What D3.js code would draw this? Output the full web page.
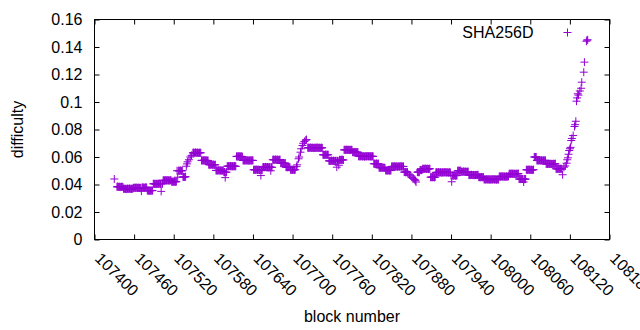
<!DOCTYPE html>
<html>
<head>
<meta charset="utf-8">
<script src="https://cdn.jsdelivr.net/npm/d3@7"></script>
<style>
  body { margin: 0; background: #fff; }
  text { font-family: "Liberation Sans", Arial, sans-serif; font-size: 16px; fill: #000; }
</style>
</head>
<body>
<svg id="chart" width="640" height="330"></svg>
<script>
var xTicks = [107400, 107460, 107520, 107580, 107640, 107700, 107760, 107820, 107880, 107940, 108000, 108060, 108120, 108180];
var yTicks = [0, 0.02, 0.04, 0.06, 0.08, 0.1, 0.12, 0.14, 0.16];
var seriesName = "SHA256D";

// block numbers and SHA256D difficulty
var blocks = [
  107430,
  107434,107435,107436,107437,107438,107439,107440,107441,107442,107443,
  107444,107445,107446,107447,107448,107449,107450,107451,107452,107453,107454,107455,107456,107457,107458,
  107459,107460,107461,107462,107463,107464,107465,107466,107467,107468,107469,107470,107471,
  107472,107473,107474,107475,107476,107477,107478,107479,
  107480,107481,107482,107483,107484,107485,107486,107487,107488,
  107489,107490,107491,107492,107493,107494,107495,107496,107497,107498,107499,107500,107501,107502,107503,
  107504,107505,107506,107507,107508,107509,107510,107511,107512,107513,107514,107515,107516,
  107517,107518,107519,107520,107521,107522,107523,107524,
  107525,107526,107527,107528,107529,107530,107531,107532,107533,
  107534,107535,107536,107537,107538,
  107539,107540,107541,107543,107545,107547,
  107549,107550,107551,107552,107553,107554,107555,107556,107557,107558,107559,107560,107561,
  107562,107563,107564,107565,107566,107567,107568,107569,107570,107571,107572,
  107573,107574,107575,107576,107577,107578,107579,107580,107581,107582,107583,
  107584,107585,107586,107587,107588,107589,107590,107591,107592,107593,107594,107595,
  107596,107597,107598,107599,107600,
  107601,107602,107603,107604,107605,107606,107607,107608,107609,107610,107611,107612,107613,107614,
  107615,107616,107617,107618,107619,107620,107621,107622,107623,107624,
  107625,107626,107627,107628,107629,107630,107631,107632,107633,107634,107635,107636,107637,107638,107639,107640,
  107641,107642,107643,107644,107645,107646,107647,107648,107649,107650,107651,107652,107653,107654,
  107655,107656,107657,107658,107659,107660,107661,107662,107663,107664,107665,107666,107667,107668,107669,
  107670,107671,107672,107673,107674,107675,107676,107677,107678,107679,107680,107681,
  107682,107683,107684,107685,107686,107687,107688,107689,
  107690,107691,107692,107693,107694,107695,107696,
  107697,107698,107699,107700,107701,107702,107703,107704,
  107706,107707,107709,107710,107712,107713,107715,107716,107718,107720,107721,
  107723,107724,107725,107726,107727,107728,107729,107730,107731,107732,107733,107734,107735,107736,107737,107738,107739,107740,107741,107742,107743,107744,107745,
  107746,107747,107748,107749,107750,107751,107752,107753,107754,
  107755,107756,107757,107758,107759,107760,107761,107762,107763,107764,107765,107766,107767,107768,107769,
  107770,107771,107772,107773,107774,107775,107776,107777,
  107778,107779,107780,107781,107782,107783,107784,107785,107786,107787,107788,107789,107790,
  107791,107792,107793,107794,107795,107796,107797,107798,107799,
  107800,107801,107802,107803,107804,107805,107806,107807,107808,107809,107810,107811,107812,107813,107814,107815,107816,107817,107818,107819,107820,107821,107822,
  107823,107824,107825,107826,107827,107828,107829,107830,
  107831,107832,107833,107834,107835,107836,107837,107838,107839,107840,
  107841,107842,107843,107844,107845,107846,107847,107848,107849,
  107850,107851,107852,107853,107854,107855,107856,107857,107858,107859,107860,107861,107862,107863,107864,107865,107866,107867,107868,
  107869,107870,107871,107872,107873,107874,
  107875,107877,107879,107881,107883,107885,107886,107887,
  107889,107890,107891,107892,107893,107894,107895,107896,
  107897,107898,107899,107900,107901,107902,107903,107904,107905,107906,107907,107908,
  107909,107910,107911,107912,107913,107914,107915,107916,
  107917,107918,107919,107920,107921,107922,107923,107924,107925,107926,107927,107928,107929,107930,107931,107932,107933,107934,107935,107936,107937,107938,107939,
  107940,107941,107942,107943,107944,107945,107946,107947,107948,107949,
  107950,107951,107952,107953,107954,
  107955,107956,107957,107958,107959,107960,107961,107962,107963,107964,107965,107966,
  107967,107968,107969,107970,107971,107972,107973,107974,107975,107976,107977,107978,107979,107980,107981,
  107982,107983,107984,107985,107986,107987,107988,107989,
  107990,107991,107992,107993,107994,107995,107996,107997,107998,107999,108000,108001,108002,108003,108004,108005,108006,108007,108008,108009,108010,108011,108012,
  108013,108014,108015,108016,108017,108018,108019,108020,108021,108022,108023,108024,108025,108026,108027,
  108028,108029,108030,108031,108032,108033,108034,108035,108036,108037,108038,108039,108040,108041,108042,
  108043,108044,108045,108046,108047,108048,108049,108050,108051,108052,108053,
  108054,108055,108056,108057,108058,108059,108060,108061,108062,108063,108064,108065,
  108066,108067,108068,108069,
  108070,108071,108072,108073,108074,108075,108076,108077,108078,108079,108080,108081,108082,108083,
  108084,108085,108086,108087,108088,108089,108090,108091,108092,108093,108094,108095,108096,108097,108098,
  108099,108100,108101,108102,108103,108104,108105,108106,108107,108108,
  108109,108111,108113,108115,108116,108117,108118,108119,108120,108121,108122,108123,108125,108127,
  108128,108129,108130,108131,108132,108133,108135,108137,108138,108141,108142,108145,108146,108147
];

var difficulty = [
  .0440,
  .0383,.0385,.0382,.0384,.0383,.0381,.0383,.0384,.0382,.0383,
  .0369,.0370,.0368,.0369,.0367,.0369,.0370,.0368,.0369,.0371,.0369,.0368,.0369,.0370,.0369,
  .0376,.0377,.0375,.0376,.0378,.0376,.0375,.0377,.0376,.0376,.0374,.0376,.0352,
  .0378,.0379,.0377,.0378,.0376,.0378,.0379,.0378,
  .0356,.0357,.0355,.0356,.0354,.0356,.0357,.0355,.0356,
  .0405,.0406,.0404,.0405,.0403,.0405,.0406,.0404,.0405,.0407,.0405,.0404,.0350,.0405,.0406,
  .0430,.0431,.0429,.0430,.0432,.0430,.0429,.0431,.0430,.0428,.0430,.0431,.0430,
  .0420,.0421,.0419,.0420,.0422,.0420,.0419,.0421,
  .0500,.0453,.0501,.0499,.0500,.0502,.0500,.0499,.0501,
  .0455,.0456,.0454,.0455,.0457,
  .0533,.0550,.0565,.0580,.0600,.0612,
  .0631,.0632,.0630,.0631,.0633,.0631,.0630,.0632,.0631,.0629,.0631,.0632,.0630,
  .0575,.0576,.0574,.0575,.0577,.0575,.0574,.0576,.0575,.0573,.0575,
  .0544,.0545,.0543,.0544,.0546,.0544,.0543,.0545,.0544,.0542,.0544,
  .0502,.0503,.0501,.0502,.0504,.0502,.0501,.0503,.0502,.0500,.0502,.0501,
  .0490,.0491,.0450,.0489,.0490,
  .0533,.0534,.0532,.0533,.0535,.0533,.0532,.0534,.0533,.0531,.0533,.0534,.0533,.0532,
  .0604,.0605,.0603,.0604,.0606,.0604,.0603,.0605,.0604,.0602,
  .0575,.0576,.0574,.0575,.0577,.0575,.0574,.0576,.0575,.0573,.0575,.0576,.0574,.0575,.0576,.0575,
  .0507,.0508,.0506,.0507,.0509,.0507,.0506,.0508,.0507,.0505,.0507,.0465,.0507,.0506,
  .0526,.0527,.0525,.0526,.0528,.0526,.0525,.0527,.0526,.0524,.0526,.0527,.0500,.0526,.0525,
  .0580,.0581,.0579,.0580,.0582,.0580,.0579,.0581,.0580,.0578,.0580,.0581,
  .0555,.0556,.0554,.0555,.0557,.0555,.0554,.0556,
  .0526,.0527,.0525,.0526,.0528,.0526,.0525,
  .0507,.0508,.0506,.0507,.0509,.0507,.0506,.0508,
  .0530,.0543,.0587,.0600,.0635,.0660,.0684,.0700,.0713,.0722,.0727,
  .0667,.0668,.0666,.0667,.0669,.0667,.0666,.0668,.0667,.0665,.0667,.0668,.0666,.0667,.0669,.0667,.0666,.0668,.0667,.0665,.0667,.0668,.0666,
  .0616,.0617,.0615,.0616,.0618,.0616,.0615,.0617,.0616,
  .0572,.0573,.0571,.0572,.0574,.0572,.0571,.0573,.0572,.0570,.0572,.0573,.0526,.0572,.0571,
  .0540,.0579,.0580,.0578,.0579,.0581,.0579,.0578,
  .0652,.0653,.0651,.0652,.0654,.0652,.0651,.0653,.0652,.0650,.0652,.0653,.0651,
  .0635,.0636,.0634,.0635,.0637,.0635,.0634,.0636,.0635,
  .0605,.0606,.0604,.0605,.0607,.0605,.0604,.0606,.0605,.0603,.0605,.0606,.0604,.0605,.0607,.0605,.0604,.0606,.0605,.0603,.0605,.0606,.0604,
  .0551,.0552,.0550,.0551,.0553,.0551,.0550,.0552,
  .0522,.0523,.0521,.0522,.0524,.0522,.0521,.0523,.0522,.0520,
  .0502,.0503,.0501,.0502,.0504,.0502,.0501,.0503,.0502,
  .0531,.0532,.0530,.0531,.0533,.0531,.0530,.0532,.0531,.0529,.0531,.0532,.0530,.0531,.0533,.0531,.0530,.0532,.0531,
  .0490,.0491,.0489,.0490,.0492,.0490,
  .0475,.0470,.0462,.0452,.0445,.0436,.0428,.0418,
  .0490,.0491,.0489,.0490,.0505,.0506,.0504,.0505,
  .0514,.0515,.0513,.0514,.0516,.0514,.0513,.0515,.0514,.0512,.0514,.0515,
  .0453,.0454,.0452,.0453,.0455,.0453,.0452,.0454,
  .0488,.0489,.0487,.0488,.0490,.0488,.0487,.0489,.0488,.0486,.0488,.0489,.0487,.0488,.0490,.0488,.0487,.0489,.0488,.0486,.0488,.0489,.0487,
  .0465,.0420,.0466,.0464,.0465,.0467,.0465,.0464,.0466,.0465,
  .0500,.0501,.0499,.0500,.0502,
  .0493,.0494,.0492,.0493,.0495,.0493,.0492,.0494,.0493,.0491,.0493,.0494,
  .0469,.0470,.0468,.0469,.0471,.0469,.0468,.0470,.0469,.0467,.0469,.0470,.0468,.0469,.0471,
  .0453,.0454,.0452,.0453,.0455,.0453,.0452,.0454,
  .0437,.0438,.0436,.0437,.0439,.0437,.0436,.0438,.0437,.0435,.0437,.0438,.0436,.0437,.0439,.0437,.0436,.0438,.0437,.0435,.0437,.0438,.0436,
  .0458,.0459,.0457,.0458,.0460,.0458,.0457,.0459,.0458,.0456,.0458,.0459,.0457,.0458,.0460,
  .0478,.0479,.0477,.0478,.0480,.0478,.0477,.0479,.0478,.0476,.0478,.0479,.0477,.0478,.0480,
  .0440,.0441,.0439,.0440,.0442,.0440,.0439,.0418,.0440,.0438,.0440,
  .0507,.0508,.0506,.0507,.0509,.0507,.0506,.0508,.0507,.0505,.0507,.0508,
  .0600,.0601,.0599,.0600,
  .0575,.0576,.0574,.0575,.0577,.0575,.0574,.0576,.0575,.0573,.0575,.0576,.0574,.0575,
  .0550,.0551,.0549,.0550,.0552,.0550,.0549,.0551,.0550,.0548,.0550,.0551,.0549,.0550,.0552,
  .0514,.0515,.0513,.0514,.0516,.0514,.0513,.0515,.0514,.0512,
  .0471,.0526,.0535,.0555,.0580,.0594,.0620,.0647,.0660,.0670,.0720,.0735,.0756,.0822,
  .0835,.0860,.1006,.1030,.1060,.1050,.1080,.1100,.1144,.1217,.1290,.1442,.1450,.1452
];

var data = d3.zip(blocks, difficulty);

var margin = { top: 19.5, right: 31, bottom: 91, left: 94.5 },
    width = 515,
    height = 220;

var svg = d3.select("#chart")
  .append("g")
  .attr("transform", "translate(" + margin.left + "," + margin.top + ")");

var x = d3.scaleLinear().domain([xTicks[0], xTicks[xTicks.length - 1]]).range([0, width]);
var y = d3.scaleLinear().domain([yTicks[0], yTicks[yTicks.length - 1]]).range([height, 0]);

var color = "#9400d3";
var plus = "M-4,0H4M0,-4V4";

// bottom axis with rotated labels
var xAxis = svg.append("g")
  .attr("transform", "translate(0," + height + ")")
  .call(d3.axisBottom(x).tickValues(xTicks).tickSizeInner(-5).tickSizeOuter(0).tickFormat(d3.format("d")));
xAxis.selectAll("text")
  .attr("x", 0).attr("y", 0).attr("dy", null)
  .attr("text-anchor", "start")
  .attr("dominant-baseline", "central")
  .attr("transform", "translate(3,16) rotate(45)");

svg.append("g")
  .call(d3.axisTop(x).tickValues(xTicks).tickSizeInner(-5).tickSizeOuter(0).tickFormat(""));

svg.append("g")
  .call(d3.axisLeft(y).tickValues(yTicks).tickSizeInner(-5).tickSizeOuter(0).tickPadding(12).tickFormat(d3.format("~g")));

svg.append("g")
  .attr("transform", "translate(" + width + ",0)")
  .call(d3.axisRight(y).tickValues(yTicks).tickSizeInner(-5).tickSizeOuter(0).tickFormat(""));

svg.selectAll(".domain").remove();
svg.selectAll(".tick line").attr("stroke", "#000");
svg.selectAll(".tick text").attr("fill", "#000").style("font-size", "16px")
  .style("font-family", "'Liberation Sans', Arial, sans-serif");

svg.append("rect")
  .attr("width", width)
  .attr("height", height)
  .attr("fill", "none")
  .attr("stroke", "#000")
  .attr("stroke-width", 1);

// points
svg.selectAll(".pt")
  .data(data)
  .enter().append("path")
  .attr("class", "pt")
  .attr("d", plus)
  .attr("transform", function(d) { return "translate(" + x(d[0]) + "," + y(d[1]) + ")"; })
  .attr("fill", "none")
  .attr("stroke", color)
  .attr("stroke-width", 1);

// key
var key = svg.append("g").attr("transform", "translate(" + (width - 42) + ",13)");
key.append("text")
  .attr("x", -34)
  .attr("text-anchor", "end")
  .attr("dominant-baseline", "central")
  .text(seriesName);
key.append("path")
  .attr("d", plus)
  .attr("fill", "none")
  .attr("stroke", color);

// axis titles
svg.append("text")
  .attr("transform", "translate(-77," + height / 2 + ") rotate(-90)")
  .attr("text-anchor", "middle")
  .attr("dominant-baseline", "central")
  .text("difficulty");

svg.append("text")
  .attr("x", width / 2)
  .attr("y", 297)
  .attr("text-anchor", "middle")
  .attr("dominant-baseline", "central")
  .text("block number");
</script>
</body>
</html>
